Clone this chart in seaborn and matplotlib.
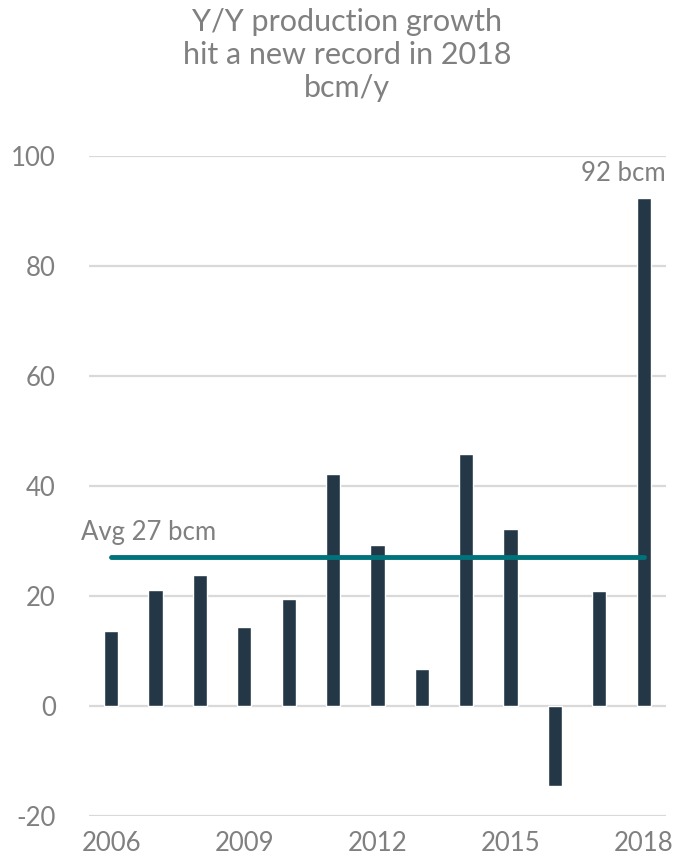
import matplotlib
matplotlib.use("Agg")
import matplotlib.pyplot as plt
import seaborn as sns
import pandas as pd

years = [str(y) for y in range(2006, 2019)]
growth = [13.6, 21.1, 23.8, 14.4, 19.5, 42.2, 29.3, 6.7, 45.8, 32.2, -14.6, 20.9, 92.3]
avg_value = 27
yticks = [-20, 0, 20, 40, 60, 80, 100]
xtick_show = ["2006", "2009", "2012", "2015", "2018"]
title = "Y/Y production growth\nhit a new record in 2018\nbcm/y"

BAR = "#243746"
TEAL = "#00737a"
GREY = "#808080"
GRID = "#d9d9d9"

sns.set_theme(style="white")
plt.rcParams["font.family"] = ["Lato", "DejaVu Sans"]

fig = plt.figure(figsize=(6.74, 8.63), dpi=100)
ax = fig.add_axes([0.132, 0.0545, 0.856, 0.7647])

df = pd.DataFrame({"year": years, "growth": growth})
sns.barplot(data=df, x="year", y="growth", color=BAR, width=0.32, ax=ax,
            saturation=1, zorder=3)

ax.set_ylim(-20, 100)
ax.set_xlim(-0.5, len(years) - 0.5)
ax.set_yticks(yticks)
ax.set_yticklabels([str(t) for t in yticks])
for t in yticks:
    ax.axhline(t, color=GRID, lw=1.6, zorder=1)
ax.grid(False)

labels = [y if y in xtick_show else "" for y in years]
ax.set_xticks(range(len(years)))
ax.set_xticklabels(labels)
ax.tick_params(axis="both", length=0, colors=GREY, labelsize=18.5)
ax.tick_params(axis="y", pad=24)
ax.tick_params(axis="x", pad=11)
ax.set_xlabel("")
ax.set_ylabel("")
for s in ax.spines.values():
    s.set_visible(False)

ax.plot([0, len(years) - 1], [avg_value, avg_value], color=TEAL, lw=3.5,
        solid_capstyle="round", zorder=4)
ax.text(-0.68, avg_value + 2.3, f"Avg {avg_value} bcm", color=GREY, fontsize=18.5,
        ha="left", va="bottom")
ax.text(len(years) - 1 + 0.5, growth[-1] + 2.3, f"{round(growth[-1])} bcm",
        color=GREY, fontsize=18.5, ha="right", va="bottom")

fig.text(0.515, 0.991, title, ha="center", va="top", color=GREY, fontsize=22,
         linespacing=1.22)

fig.savefig("out.png", dpi=100)
